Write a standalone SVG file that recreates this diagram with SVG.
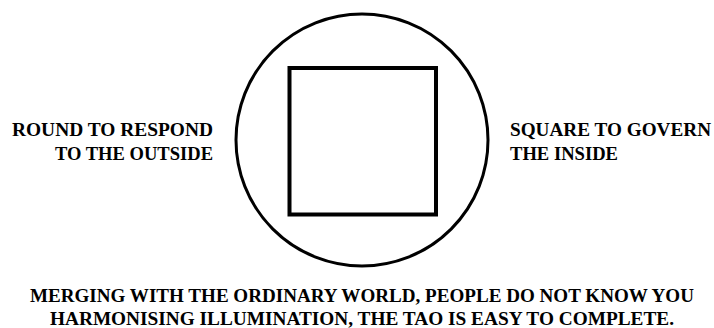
<svg xmlns="http://www.w3.org/2000/svg" width="714" height="328" viewBox="0 0 714 328">
<style>
text{font-family:'Liberation Serif','Times New Roman',serif;font-weight:700;font-size:19px;fill:#000}
.shape{fill:none;stroke:#000}
</style>
<rect x="0" y="0" width="714" height="328" fill="#fff"/>
<g id="circle"><circle class="shape" cx="362" cy="140" r="126" stroke-width="3"/></g>
<g id="square"><rect class="shape" x="289.5" y="68" width="146.5" height="146.5" stroke-width="4"/></g>
<g id="connectors"></g>
<g id="left-label">
<text x="213" y="135.5" text-anchor="end" textLength="201" lengthAdjust="spacingAndGlyphs">ROUND TO RESPOND</text>
<text x="213" y="159.5" text-anchor="end" textLength="158" lengthAdjust="spacingAndGlyphs">TO THE OUTSIDE</text>
</g>
<g id="right-label">
<text x="510" y="135.5" textLength="201" lengthAdjust="spacingAndGlyphs">SQUARE TO GOVERN</text>
<text x="510" y="159.5" textLength="108" lengthAdjust="spacingAndGlyphs">THE INSIDE</text>
</g>
<g id="bottom-label">
<text x="362" y="301.5" text-anchor="middle" textLength="664" lengthAdjust="spacingAndGlyphs">MERGING WITH THE ORDINARY WORLD, PEOPLE DO NOT KNOW YOU</text>
<text x="362" y="325" text-anchor="middle" textLength="624" lengthAdjust="spacingAndGlyphs">HARMONISING ILLUMINATION, THE TAO IS EASY TO COMPLETE.</text>
</g>
</svg>
